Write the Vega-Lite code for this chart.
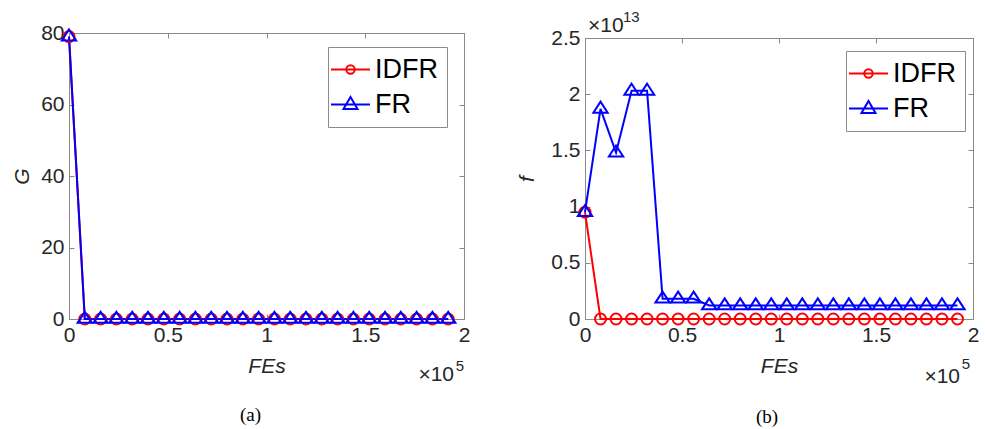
{
  "$schema": "https://vega.github.io/schema/vega-lite/v6.json",
  "padding": {"left": 11, "right": 6, "top": 10, "bottom": 3},
  "spacing": 46,
  "config": {
    "font": "Liberation Sans",
    "view": {"stroke": null},
    "axis": {
      "domainColor": "#8a8a8a", "tickColor": "#8a8a8a", "tickSize": -5,
      "labelFont": "Liberation Sans", "labelFontSize": 21, "labelColor": "#262626",
      "labelFlush": false, "labelOverlap": false,
      "titleFont": "Liberation Sans", "titleFontSize": 21, "titleColor": "#262626",
      "titleFontWeight": "normal", "grid": false, "labelPadding": 10
    },
    "legend": {
      "orient": "none", "direction": "vertical",
      "fillColor": "white", "strokeColor": "#8a8a8a", "padding": 9,
      "labelFont": "Liberation Sans", "labelFontSize": 27, "labelColor": "black",
      "symbolSize": 400, "symbolStrokeWidth": 2, "symbolOpacity": 1, "labelOffset": 11, "rowPadding": 7
    }
  },
  "resolve": {"scale": {"color": "independent", "shape": "independent"}, "legend": {"color": "independent", "shape": "independent"}},
  "hconcat": [
    {
      "width": 395, "height": 286,
      "title": {"text": "(a)", "orient": "bottom", "font": "Liberation Serif", "fontSize": 19, "fontWeight": "normal", "color": "#000000", "offset": 21, "anchor": "middle", "frame": "group", "dx": -16},
      "data": {"values": [
        {"FEs": 0, "method": "IDFR", "G": 79}, {"FEs": 8000, "method": "IDFR", "G": 0}, {"FEs": 16000, "method": "IDFR", "G": 0}, {"FEs": 24000, "method": "IDFR", "G": 0}, {"FEs": 32000, "method": "IDFR", "G": 0},
        {"FEs": 40000, "method": "IDFR", "G": 0}, {"FEs": 48000, "method": "IDFR", "G": 0}, {"FEs": 56000, "method": "IDFR", "G": 0}, {"FEs": 64000, "method": "IDFR", "G": 0}, {"FEs": 72000, "method": "IDFR", "G": 0},
        {"FEs": 80000, "method": "IDFR", "G": 0}, {"FEs": 88000, "method": "IDFR", "G": 0}, {"FEs": 96000, "method": "IDFR", "G": 0}, {"FEs": 104000, "method": "IDFR", "G": 0}, {"FEs": 112000, "method": "IDFR", "G": 0},
        {"FEs": 120000, "method": "IDFR", "G": 0}, {"FEs": 128000, "method": "IDFR", "G": 0}, {"FEs": 136000, "method": "IDFR", "G": 0}, {"FEs": 144000, "method": "IDFR", "G": 0}, {"FEs": 152000, "method": "IDFR", "G": 0},
        {"FEs": 160000, "method": "IDFR", "G": 0}, {"FEs": 168000, "method": "IDFR", "G": 0}, {"FEs": 176000, "method": "IDFR", "G": 0}, {"FEs": 184000, "method": "IDFR", "G": 0}, {"FEs": 192000, "method": "IDFR", "G": 0},
        {"FEs": 0, "method": "FR", "G": 79}, {"FEs": 8000, "method": "FR", "G": 0}, {"FEs": 16000, "method": "FR", "G": 0}, {"FEs": 24000, "method": "FR", "G": 0}, {"FEs": 32000, "method": "FR", "G": 0},
        {"FEs": 40000, "method": "FR", "G": 0}, {"FEs": 48000, "method": "FR", "G": 0}, {"FEs": 56000, "method": "FR", "G": 0}, {"FEs": 64000, "method": "FR", "G": 0}, {"FEs": 72000, "method": "FR", "G": 0},
        {"FEs": 80000, "method": "FR", "G": 0}, {"FEs": 88000, "method": "FR", "G": 0}, {"FEs": 96000, "method": "FR", "G": 0}, {"FEs": 104000, "method": "FR", "G": 0}, {"FEs": 112000, "method": "FR", "G": 0},
        {"FEs": 120000, "method": "FR", "G": 0}, {"FEs": 128000, "method": "FR", "G": 0}, {"FEs": 136000, "method": "FR", "G": 0}, {"FEs": 144000, "method": "FR", "G": 0}, {"FEs": 152000, "method": "FR", "G": 0},
        {"FEs": 160000, "method": "FR", "G": 0}, {"FEs": 168000, "method": "FR", "G": 0}, {"FEs": 176000, "method": "FR", "G": 0}, {"FEs": 184000, "method": "FR", "G": 0}, {"FEs": 192000, "method": "FR", "G": 0}
      ]},
      "resolve": {"axis": {"x": "independent", "y": "independent"}},
      "layer": [
        {
          "mark": {"type": "line", "strokeWidth": 2},
          "encoding": {
            "x": {"field": "FEs", "type": "quantitative", "scale": {"domain": [0, 200000], "nice": false},
                  "axis": {"orient": "bottom", "values": [0, 50000, 100000, 150000, 200000], "labelExpr": "format(datum.value/100000, '')", "title": "FEs", "titleFontStyle": "italic", "titlePadding": 10}},
            "y": {"field": "G", "type": "quantitative", "scale": {"domain": [0, 80], "nice": false},
                  "axis": {"orient": "left", "values": [0, 20, 40, 60, 80], "title": "G", "titleFontStyle": "italic", "titlePadding": 8}},
            "color": {"field": "method", "type": "nominal", "scale": {"domain": ["IDFR", "FR"], "range": ["#ff0000", "#0000ff"]}}
          }
        },
        {
          "transform": [{"filter": "datum.method === 'IDFR'"}],
          "mark": {"type": "point", "filled": false, "strokeWidth": 2, "opacity": 1, "size": 121, "shape": "circle"},
          "encoding": {
            "x": {"field": "FEs", "type": "quantitative", "axis": {"orient": "top", "values": [0, 50000, 100000, 150000, 200000], "labels": false, "title": null}},
            "y": {"field": "G", "type": "quantitative", "axis": {"orient": "right", "values": [0, 20, 40, 60, 80], "labels": false, "title": null}},
            "color": {"field": "method", "type": "nominal"}
          }
        },
        {
          "transform": [{"filter": "datum.method === 'FR'"}],
          "mark": {"type": "point", "filled": false, "strokeWidth": 2, "opacity": 1, "size": 121, "shape": "M0,-1.3L1.3,0.7L-1.3,0.7Z"},
          "encoding": {
            "x": {"field": "FEs", "type": "quantitative", "axis": null},
            "y": {"field": "G", "type": "quantitative", "axis": null},
            "color": {"field": "method", "type": "nominal"}
          }
        },
        {
          "transform": [{"filter": "datum.FEs === 0"}],
          "mark": {"type": "point", "filled": false, "strokeWidth": 2, "opacity": 0},
          "encoding": {
            "x": {"field": "FEs", "type": "quantitative", "axis": null},
            "y": {"field": "G", "type": "quantitative", "axis": null},
            "color": {"field": "method", "type": "nominal", "legend": {"title": null, "legendX": 259, "legendY": 14}},
            "shape": {"field": "method", "type": "nominal", "scale": {"domain": ["IDFR", "FR"], "range": ["M-1.95,0H1.95M0.42,0A0.42,0.42,0,1,1,-0.42,0A0.42,0.42,0,1,1,0.42,0", "M-1.95,0H1.95M0,-0.75L0.7,0.45L-0.7,0.45Z"]}, "legend": {"title": null, "legendX": 259, "legendY": 14}}
          }
        },
        {
          "data": {"values": [{"label": "×10"}]},
          "mark": {"type": "text", "align": "right", "baseline": "middle", "fontSize": 21, "color": "#262626", "dx": -10, "dy": 56},
          "encoding": {"x": {"datum": 200000, "type": "quantitative", "axis": null}, "y": {"datum": 0, "type": "quantitative", "axis": null}, "text": {"field": "label"}}
        },
        {
          "data": {"values": [{"label": "5"}]},
          "mark": {"type": "text", "align": "right", "baseline": "middle", "fontSize": 15, "color": "#262626", "dx": 0, "dy": 47},
          "encoding": {"x": {"datum": 200000, "type": "quantitative", "axis": null}, "y": {"datum": 0, "type": "quantitative", "axis": null}, "text": {"field": "label"}}
        }
      ]
    },
    {
      "width": 388, "height": 286,
      "title": {"text": "(b)", "orient": "bottom", "font": "Liberation Serif", "fontSize": 19, "fontWeight": "normal", "color": "#000000", "offset": 21, "anchor": "middle", "frame": "group", "dx": -12},
      "data": {"values": [
        {"FEs": 0, "method": "IDFR", "f": 9.5e12}, {"FEs": 8000, "method": "IDFR", "f": 0}, {"FEs": 16000, "method": "IDFR", "f": 0}, {"FEs": 24000, "method": "IDFR", "f": 0}, {"FEs": 32000, "method": "IDFR", "f": 0},
        {"FEs": 40000, "method": "IDFR", "f": 0}, {"FEs": 48000, "method": "IDFR", "f": 0}, {"FEs": 56000, "method": "IDFR", "f": 0}, {"FEs": 64000, "method": "IDFR", "f": 0}, {"FEs": 72000, "method": "IDFR", "f": 0},
        {"FEs": 80000, "method": "IDFR", "f": 0}, {"FEs": 88000, "method": "IDFR", "f": 0}, {"FEs": 96000, "method": "IDFR", "f": 0}, {"FEs": 104000, "method": "IDFR", "f": 0}, {"FEs": 112000, "method": "IDFR", "f": 0},
        {"FEs": 120000, "method": "IDFR", "f": 0}, {"FEs": 128000, "method": "IDFR", "f": 0}, {"FEs": 136000, "method": "IDFR", "f": 0}, {"FEs": 144000, "method": "IDFR", "f": 0}, {"FEs": 152000, "method": "IDFR", "f": 0},
        {"FEs": 160000, "method": "IDFR", "f": 0}, {"FEs": 168000, "method": "IDFR", "f": 0}, {"FEs": 176000, "method": "IDFR", "f": 0}, {"FEs": 184000, "method": "IDFR", "f": 0}, {"FEs": 192000, "method": "IDFR", "f": 0},
        {"FEs": 0, "method": "FR", "f": 9.5e12}, {"FEs": 8000, "method": "FR", "f": 1.87e13}, {"FEs": 16000, "method": "FR", "f": 1.48e13}, {"FEs": 24000, "method": "FR", "f": 2.03e13}, {"FEs": 32000, "method": "FR", "f": 2.03e13},
        {"FEs": 40000, "method": "FR", "f": 1.8e12}, {"FEs": 48000, "method": "FR", "f": 1.8e12}, {"FEs": 56000, "method": "FR", "f": 1.8e12}, {"FEs": 64000, "method": "FR", "f": 1.2e12}, {"FEs": 72000, "method": "FR", "f": 1.2e12},
        {"FEs": 80000, "method": "FR", "f": 1.2e12}, {"FEs": 88000, "method": "FR", "f": 1.2e12}, {"FEs": 96000, "method": "FR", "f": 1.2e12}, {"FEs": 104000, "method": "FR", "f": 1.2e12}, {"FEs": 112000, "method": "FR", "f": 1.2e12},
        {"FEs": 120000, "method": "FR", "f": 1.2e12}, {"FEs": 128000, "method": "FR", "f": 1.2e12}, {"FEs": 136000, "method": "FR", "f": 1.2e12}, {"FEs": 144000, "method": "FR", "f": 1.2e12}, {"FEs": 152000, "method": "FR", "f": 1.2e12},
        {"FEs": 160000, "method": "FR", "f": 1.2e12}, {"FEs": 168000, "method": "FR", "f": 1.2e12}, {"FEs": 176000, "method": "FR", "f": 1.2e12}, {"FEs": 184000, "method": "FR", "f": 1.2e12}, {"FEs": 192000, "method": "FR", "f": 1.2e12}
      ]},
      "resolve": {"axis": {"x": "independent", "y": "independent"}},
      "layer": [
        {
          "mark": {"type": "line", "strokeWidth": 2},
          "encoding": {
            "x": {"field": "FEs", "type": "quantitative", "scale": {"domain": [0, 200000], "nice": false},
                  "axis": {"orient": "bottom", "values": [0, 50000, 100000, 150000, 200000], "labelExpr": "format(datum.value/100000, '')", "title": "FEs", "titleFontStyle": "italic", "titlePadding": 10}},
            "y": {"field": "f", "type": "quantitative", "scale": {"domain": [0, 25000000000000], "nice": false, "range": [286, 5]},
                  "axis": {"orient": "left", "values": [0, 5000000000000, 10000000000000, 15000000000000, 20000000000000, 25000000000000], "labelExpr": "format(datum.value/10000000000000, '')", "title": "f", "titleFontStyle": "italic", "titlePadding": 13}},
            "color": {"field": "method", "type": "nominal", "scale": {"domain": ["IDFR", "FR"], "range": ["#ff0000", "#0000ff"]}}
          }
        },
        {
          "transform": [{"filter": "datum.method === 'IDFR'"}],
          "mark": {"type": "point", "filled": false, "strokeWidth": 2, "opacity": 1, "size": 121, "shape": "circle"},
          "encoding": {
            "x": {"field": "FEs", "type": "quantitative", "axis": {"orient": "top", "offset": -5, "values": [0, 50000, 100000, 150000, 200000], "labels": false, "title": null}},
            "y": {"field": "f", "type": "quantitative", "axis": {"orient": "right", "values": [0, 5000000000000, 10000000000000, 15000000000000, 20000000000000, 25000000000000], "labels": false, "title": null}},
            "color": {"field": "method", "type": "nominal"}
          }
        },
        {
          "transform": [{"filter": "datum.method === 'FR'"}],
          "mark": {"type": "point", "filled": false, "strokeWidth": 2, "opacity": 1, "size": 121, "shape": "M0,-1.3L1.3,0.7L-1.3,0.7Z"},
          "encoding": {
            "x": {"field": "FEs", "type": "quantitative", "axis": null},
            "y": {"field": "f", "type": "quantitative", "axis": null},
            "color": {"field": "method", "type": "nominal"}
          }
        },
        {
          "transform": [{"filter": "datum.FEs === 0"}],
          "mark": {"type": "point", "filled": false, "strokeWidth": 2, "opacity": 0},
          "encoding": {
            "x": {"field": "FEs", "type": "quantitative", "axis": null},
            "y": {"field": "f", "type": "quantitative", "axis": null},
            "color": {"field": "method", "type": "nominal", "legend": {"title": null, "legendX": 261, "legendY": 18}},
            "shape": {"field": "method", "type": "nominal", "scale": {"domain": ["IDFR", "FR"], "range": ["M-1.95,0H1.95M0.42,0A0.42,0.42,0,1,1,-0.42,0A0.42,0.42,0,1,1,0.42,0", "M-1.95,0H1.95M0,-0.75L0.7,0.45L-0.7,0.45Z"]}, "legend": {"title": null, "legendX": 261, "legendY": 18}}
          }
        },
        {
          "data": {"values": [{"label": "×10"}]},
          "mark": {"type": "text", "align": "right", "baseline": "middle", "fontSize": 21, "color": "#262626", "dx": -13, "dy": 58},
          "encoding": {"x": {"datum": 200000, "type": "quantitative", "axis": null}, "y": {"datum": 0, "type": "quantitative", "axis": null}, "text": {"field": "label"}}
        },
        {
          "data": {"values": [{"label": "5"}]},
          "mark": {"type": "text", "align": "right", "baseline": "middle", "fontSize": 15, "color": "#262626", "dx": -3, "dy": 45},
          "encoding": {"x": {"datum": 200000, "type": "quantitative", "axis": null}, "y": {"datum": 0, "type": "quantitative", "axis": null}, "text": {"field": "label"}}
        },
        {
          "data": {"values": [{"label": "×10"}]},
          "mark": {"type": "text", "align": "left", "baseline": "middle", "fontSize": 21, "color": "#262626", "dx": 3, "dy": -12},
          "encoding": {"x": {"datum": 0, "type": "quantitative", "axis": null}, "y": {"datum": 25000000000000, "type": "quantitative", "axis": null}, "text": {"field": "label"}}
        },
        {
          "data": {"values": [{"label": "13"}]},
          "mark": {"type": "text", "align": "left", "baseline": "middle", "fontSize": 15, "color": "#262626", "dx": 38, "dy": -21},
          "encoding": {"x": {"datum": 0, "type": "quantitative", "axis": null}, "y": {"datum": 25000000000000, "type": "quantitative", "axis": null}, "text": {"field": "label"}}
        }
      ]
    }
  ]
}
